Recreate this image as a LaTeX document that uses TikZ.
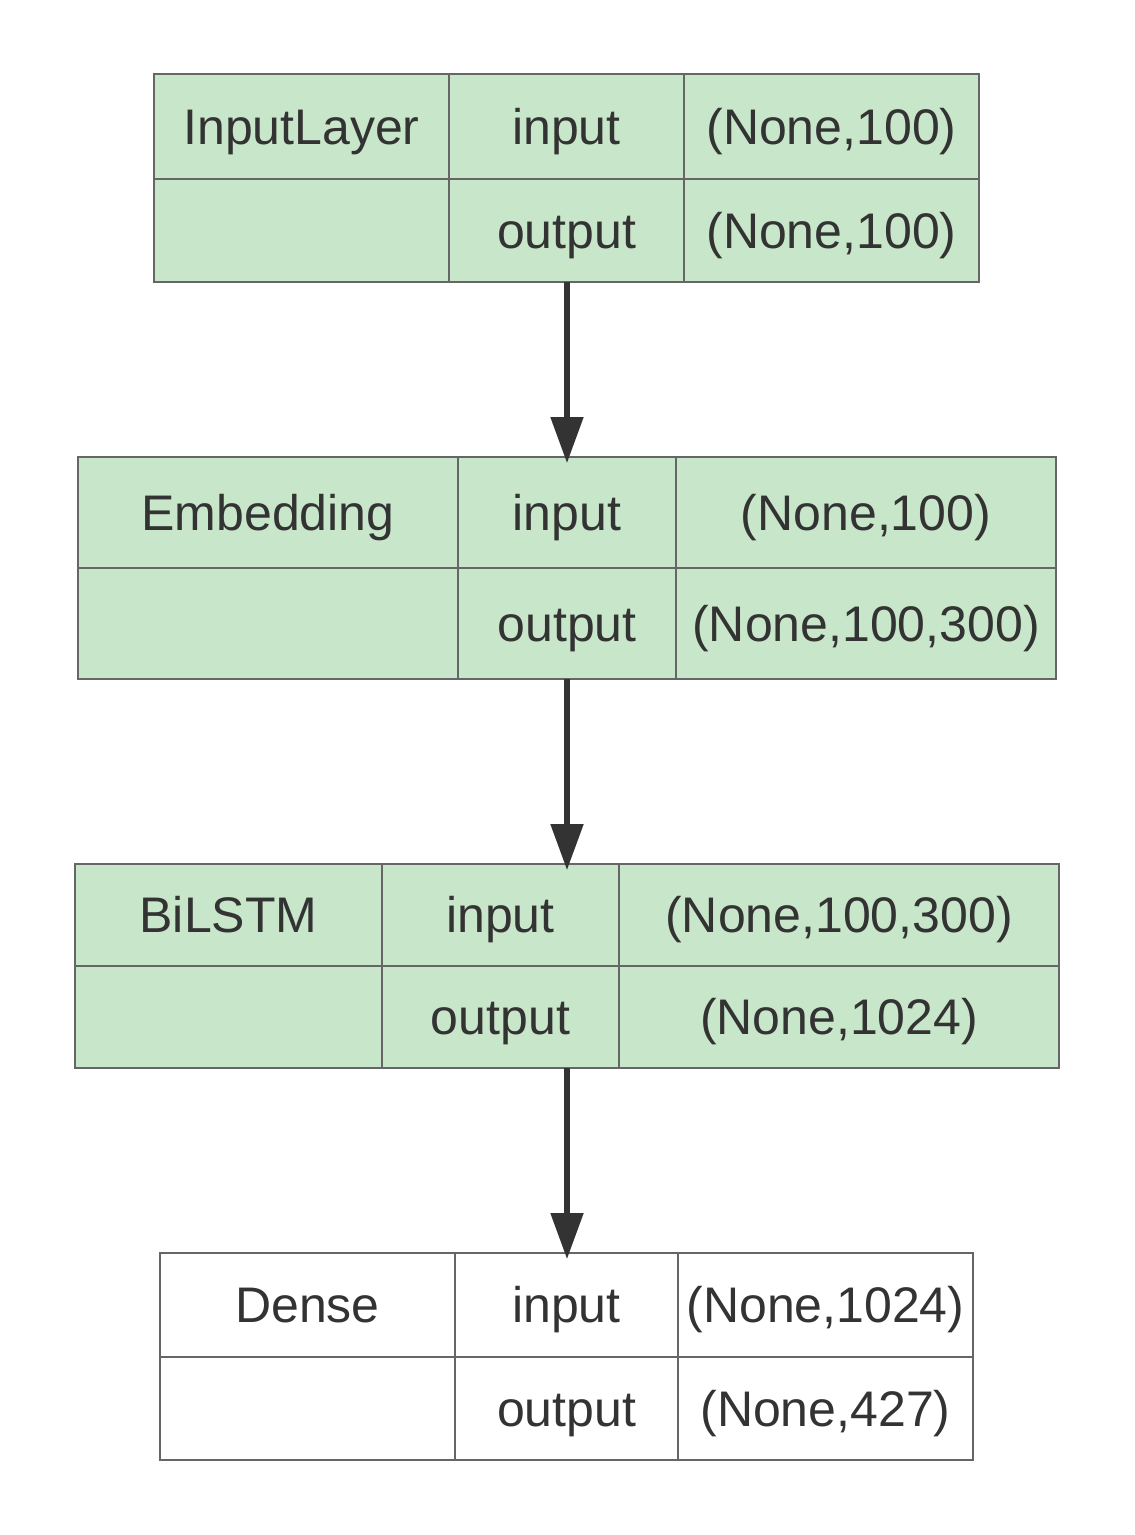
\documentclass[tikz,border=0pt]{standalone}
\usepackage{fontspec}
\setmainfont{Liberation Sans}
\usetikzlibrary{arrows.meta}
\definecolor{cellgreen}{HTML}{C8E6C9}
\definecolor{cellline}{HTML}{666666}
\definecolor{txt}{HTML}{333333}
\definecolor{arrowc}{HTML}{333333}
\newcommand\mycell[7]{%
  \node[cellbox, fill=#6, minimum width={(#3-#2)*0.5pt}, minimum height={(#5-#4)*0.5pt}]
    (#1) at ({(#2+#3)/2},{(#4+#5)/2}) {#7};}
\newcommand\myframe[5]{%
  \node[framebox, minimum width={(#3-#2)*0.5pt}, minimum height={(#5-#4)*0.5pt}]
    (#1) at ({(#2+#3)/2},{(#4+#5)/2}) {};}
\begin{document}
\begin{tikzpicture}[x=0.5pt,y=-0.5pt,
  cellbox/.style={draw=cellline, line width=1pt, inner sep=0pt, outer sep=0pt,
    text=txt, font=\fontsize{25}{29}\selectfont, text height=17.8pt, text depth=0pt},
  framebox/.style={inner sep=0pt, outer sep=0pt},
  flow/.style={draw=arrowc, line width=2.6pt,
    -{Triangle[length=23pt, width=16pt]}, shorten >=-3pt}]
\useasboundingbox (0,0) rectangle (1134,1535);
% InputLayer
\myframe{t1}{154}{980}{74}{282}
\mycell{a11}{154}{449}{74}{179}{cellgreen}{InputLayer}
\mycell{a12}{449}{684}{74}{179}{cellgreen}{input}
\mycell{a13}{684}{979}{74}{179}{cellgreen}{(None,100)}
\mycell{a21}{154}{449}{179}{282}{cellgreen}{}
\mycell{a22}{449}{684}{179}{282}{cellgreen}{output}
\mycell{a23}{684}{979}{179}{282}{cellgreen}{(None,100)}
% Embedding
\myframe{t2}{78}{1056}{457}{679}
\mycell{b11}{78}{458}{457}{568}{cellgreen}{Embedding}
\mycell{b12}{458}{676}{457}{568}{cellgreen}{input}
\mycell{b13}{676}{1056}{457}{568}{cellgreen}{(None,100)}
\mycell{b21}{78}{458}{568}{679}{cellgreen}{}
\mycell{b22}{458}{676}{568}{679}{cellgreen}{output}
\mycell{b23}{676}{1056}{568}{679}{cellgreen}{(None,100,300)}
% BiLSTM
\myframe{t3}{75}{1059}{864}{1068}
\mycell{c11}{75}{382}{864}{966}{cellgreen}{BiLSTM}
\mycell{c12}{382}{619}{864}{966}{cellgreen}{input}
\mycell{c13}{619}{1059}{864}{966}{cellgreen}{(None,100,300)}
\mycell{c21}{75}{382}{966}{1068}{cellgreen}{}
\mycell{c22}{382}{619}{966}{1068}{cellgreen}{output}
\mycell{c23}{619}{1059}{966}{1068}{cellgreen}{(None,1024)}
% Dense
\myframe{t4}{160}{974}{1253}{1460}
\mycell{d11}{160}{455}{1253}{1357}{white}{Dense}
\mycell{d12}{455}{678}{1253}{1357}{white}{input}
\mycell{d13}{678}{973}{1253}{1357}{white}{(None,1024)}
\mycell{d21}{160}{455}{1357}{1460}{white}{}
\mycell{d22}{455}{678}{1357}{1460}{white}{output}
\mycell{d23}{678}{973}{1357}{1460}{white}{(None,427)}
% arrows
\draw[flow] (t1.south) -- (t2.north);
\draw[flow] (t2.south) -- (t3.north);
\draw[flow] (t3.south) -- (t4.north);
\end{tikzpicture}
\end{document}
